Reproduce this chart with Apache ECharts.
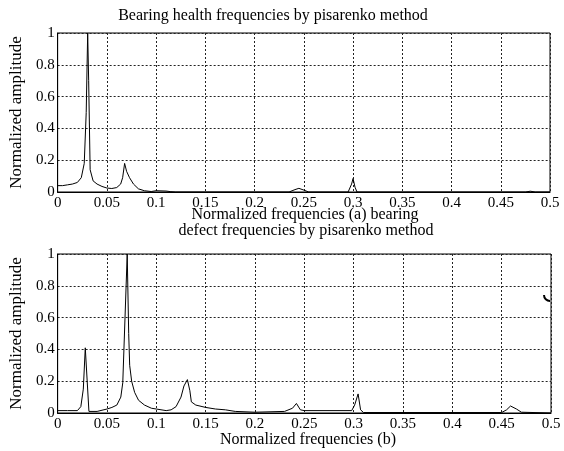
<!DOCTYPE html>
<html lang="en">
<head>
    <meta charset="UTF-8">
    <script src="https://cdn.jsdelivr.net/npm/echarts@6/dist/echarts.min.js"></script>
    <style>
        html, body { margin: 0; padding: 0; background: #fff; }
        #main { width: 564px; height: 451px; }
    </style>
</head>
<body>
    <div id="main"></div>
</body>
<script>
    // (a) bearing health spectrum
    var freqA = [0, 0.005, 0.01, 0.015, 0.02, 0.024, 0.027, 0.029, 0.0305, 0.0315, 0.033, 0.036, 0.04, 0.045, 0.05, 0.055, 0.06,
        0.064, 0.066, 0.068, 0.07, 0.073, 0.077, 0.082, 0.088, 0.095, 0.1, 0.11, 0.115, 0.12, 0.235, 0.241, 0.245, 0.25, 0.255,
        0.295, 0.2985, 0.3, 0.302, 0.304, 0.475, 0.48, 0.485, 0.5];
    var ampA = [0.04, 0.04, 0.045, 0.05, 0.06, 0.09, 0.18, 0.5, 1.0, 0.7, 0.14, 0.07, 0.05, 0.035, 0.025, 0.022, 0.028,
        0.05, 0.09, 0.18, 0.13, 0.09, 0.05, 0.02, 0.008, 0.003, 0.008, 0.006, 0.002, 0, 0, 0.015, 0.023, 0.012, 0,
        0, 0.05, 0.085, 0.03, 0, 0, 0.005, 0, 0];

    // (b) bearing defect spectrum
    var freqB = [0, 0.01, 0.02, 0.0235, 0.026, 0.028, 0.0317, 0.04, 0.05, 0.055, 0.06, 0.064, 0.066, 0.0675, 0.0705, 0.072,
        0.073, 0.075, 0.078, 0.082, 0.088, 0.095, 0.1, 0.11, 0.115, 0.12, 0.125, 0.128, 0.1315, 0.134, 0.1355, 0.14, 0.15,
        0.16, 0.17, 0.18, 0.2, 0.23, 0.238, 0.242, 0.246, 0.25, 0.298, 0.301, 0.3045, 0.307, 0.31, 0.45, 0.455, 0.459,
        0.465, 0.47, 0.5];
    var ampB = [0.015, 0.015, 0.015, 0.04, 0.15, 0.41, 0.01, 0.01, 0.025, 0.035, 0.05, 0.1, 0.19, 0.2, 1.0, 0.5,
        0.3, 0.2, 0.13, 0.08, 0.05, 0.03, 0.025, 0.015, 0.02, 0.04, 0.1, 0.17, 0.21, 0.14, 0.07, 0.05, 0.035,
        0.025, 0.02, 0.01, 0.005, 0.01, 0.03, 0.06, 0.02, 0.015, 0.015, 0.05, 0.12, 0.02, 0.003, 0.003, 0.02, 0.044,
        0.025, 0.005, 0];

    var titleTop = 'Bearing health frequencies by pisarenko method';
    var xNameTop = 'Normalized frequencies (a) bearing';
    var titleBottom = 'defect frequencies by pisarenko method';
    var xNameBottom = 'Normalized frequencies (b)';
    var yName = 'Normalized amplitude';

    function pairs(xs, ys) {
        var out = [];
        for (var i = 0; i < xs.length; i++) out.push([xs[i], ys[i]]);
        return out;
    }

    var serif = '"Liberation Serif", "Times New Roman", serif';
    var dotted = { color: '#222', type: [2, 2], width: 1 };

    function xAxisOpt(idx) {
        return {
            type: 'value', gridIndex: idx, min: 0, max: 0.5, interval: 0.05,
            axisLine: { lineStyle: { color: '#000', width: 1 } },
            axisTick: { show: false },
            axisLabel: { color: '#000', fontFamily: serif, fontSize: 15, margin: 4,
                formatter: function (v) { return String(+v.toFixed(2)); } },
            splitLine: { show: true, lineStyle: dotted }
        };
    }
    function yAxisOpt(idx) {
        return {
            type: 'value', gridIndex: idx, min: 0, max: 1, interval: 0.2,
            name: yName, nameLocation: 'middle', nameRotate: 90, nameGap: 24,
            nameTextStyle: { color: '#000', fontFamily: serif, fontSize: 17 },
            axisLine: { lineStyle: { color: '#000', width: 1 } },
            axisTick: { show: false },
            axisLabel: { color: '#000', fontFamily: serif, fontSize: 15, margin: 3,
                formatter: function (v) { return String(+v.toFixed(1)); } },
            splitLine: { show: true, lineStyle: dotted }
        };
    }

    function label(str, x, y, size) {
        return { type: 'text', x: x, y: y,
            style: { text: str, fill: '#000', font: size + 'px ' + serif, align: 'center', verticalAlign: 'middle' } };
    }

    var myChart = echarts.init(document.getElementById('main'));
    var option = {
        backgroundColor: '#fff',
        animation: false,
        grid: [
            { left: 57, top: 33, width: 493, height: 159, show: true, borderColor: '#000', borderWidth: 1 },
            { left: 57, top: 254, width: 494, height: 159, show: true, borderColor: '#000', borderWidth: 1 }
        ],
        xAxis: [xAxisOpt(0), xAxisOpt(1)],
        yAxis: [yAxisOpt(0), yAxisOpt(1)],
        graphic: [
            label(titleTop, 273, 16, 16),
            label(xNameTop, 305, 215, 16),
            label(titleBottom, 306, 231, 16),
            label(xNameBottom, 308, 440, 16),
            // scanning mark at the right edge of the lower panel
            { type: 'arc', shape: { cx: 550, cy: 295, r: 6, startAngle: Math.PI * 0.5, endAngle: Math.PI },
                style: { stroke: '#000', lineWidth: 2, fill: null } }
        ],
        series: [
            { type: 'line', xAxisIndex: 0, yAxisIndex: 0, data: pairs(freqA, ampA), showSymbol: false,
                lineStyle: { color: '#000', width: 1 } },
            { type: 'line', xAxisIndex: 1, yAxisIndex: 1, data: pairs(freqB, ampB), showSymbol: false,
                lineStyle: { color: '#000', width: 1 } }
        ]
    };
    myChart.setOption(option);
</script>
</html>
